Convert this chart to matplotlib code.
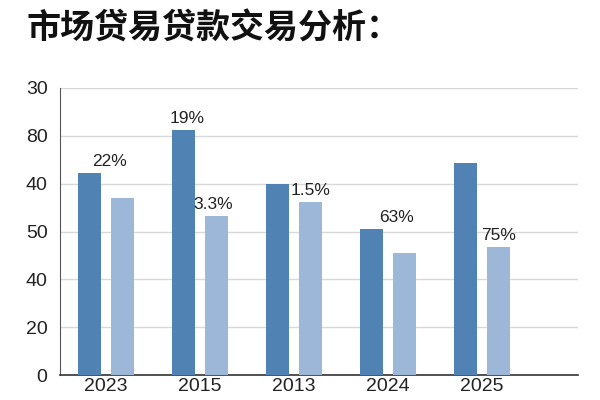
import numpy as np
import matplotlib.pyplot as plt

plt.rcParams['font.family'] = ['Liberation Sans', 'Noto Sans CJK SC', 'DejaVu Sans']

# Daten aus dem Bild
years = ['2023', '2015', '2013', '2024', '2025']
dark_vals = [42.2, 51.2, 39.9, 30.6, 44.3]
light_vals = [37.1, 33.2, 36.2, 25.6, 26.7]
ytick_labels = ['0', '20', '40', '50', '40', '80', '30']

# Beschriftungen: Gruppe, Reihe (0 dunkel, 1 hell), Text
ann_group = [0, 1, 1, 2, 3, 4]
ann_series = [0, 0, 1, 1, 0, 1]
ann_text = ['22%', '19%', '3.3%', '1.5%', '63%', '75%']
ann_dx = [20, 4, -3, 0, 25, 0]

dark = '#5182b4'
light = '#9db7d8'

fig = plt.figure(figsize=(6, 4), dpi=100)
ax = fig.add_axes([0.1, 0.062, 0.863, 0.718])

x = np.arange(len(years))
w = 0.245
off = 0.175
ax.bar(x - off, dark_vals, w, color=dark, zorder=3)
ax.bar(x + off, light_vals, w, color=light, zorder=3)

ax.set_xlim(-0.49, 5.02)
ax.set_ylim(0, 60)
ax.set_yticks(np.arange(0, 61, 10))
ax.set_yticklabels(ytick_labels, fontsize=14, color='#222222')
ax.set_xticks(x)
ax.set_xticklabels(years, fontsize=14, color='#222222')
ax.tick_params(length=0)
ax.tick_params(axis='y', pad=9)
ax.tick_params(axis='x', pad=2)

ax.grid(axis='y', color='#d8d8d8', linewidth=1, zorder=0)
for s in ['top', 'right']:
    ax.spines[s].set_visible(False)
ax.spines['left'].set_color('#555555')
ax.spines['bottom'].set_color('#333333')
ax.spines['bottom'].set_linewidth(1.2)

for g, s, t, dx in zip(ann_group, ann_series, ann_text, ann_dx):
    vals = dark_vals if s == 0 else light_vals
    xp = x[g] + (off if s else -off)
    ax.annotate(t, (xp, vals[g]), xytext=(dx * 0.72, 3), textcoords='offset points',
                ha='center', va='bottom', fontsize=12.5, color='#222222')

fig.text(0.045, 0.93, '市场贷易贷款交易分析：', fontsize=24.5, fontweight='heavy',
         family=['Noto Sans CJK SC'], va='center', ha='left', color='#111111')

fig.savefig('out.png', dpi=100)
